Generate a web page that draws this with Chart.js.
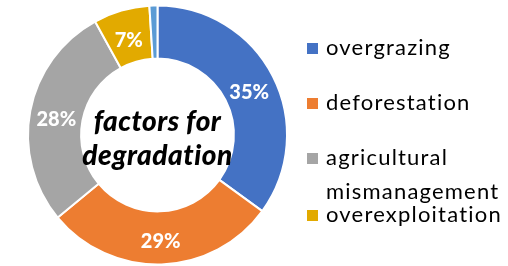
<!DOCTYPE html>
<html>
<head>
<meta charset="utf-8">
<script src="https://cdn.jsdelivr.net/npm/chart.js@4"></script>
<style>
  html, body { margin: 0; padding: 0; background: #fff; }
  #wrap { width: 508px; height: 266px; }
</style>
</head>
<body>
<div id="wrap"><canvas id="grafico" width="508" height="266"></canvas></div>
<script>
const categorias = ["overgrazing", "deforestation", "agricultural mismanagement", "overexploitation", "other"];
const valores = [35, 29, 28, 7, 1];
const cores = ["#4472C4", "#ED7D31", "#A5A5A5", "#E2AA00", "#5B9BD5"];
const rotulosLegenda = [["overgrazing"], ["deforestation"], ["agricultural", "mismanagement"], ["overexploitation"]];
const textoCentro = ["factors for", "degradation"];

// percentuais dentro das fatias
const rotulosFatias = {
  id: "rotulosFatias",
  afterDatasetsDraw(chart) {
    const ctx = chart.ctx;
    const meta = chart.getDatasetMeta(0);
    ctx.save();
    ctx.fillStyle = "#fff";
    ctx.font = "900 20px Lato";
    ctx.textAlign = "center";
    ctx.textBaseline = "middle";
    meta.data.forEach(function (arc, i) {
      if (valores[i] < 5) return;
      const p = arc.tooltipPosition();
      ctx.fillText(valores[i] + "%", p.x, p.y + 4);
    });
    ctx.restore();
  }
};

// titulo no meio da rosca
const centro = {
  id: "centro",
  afterDraw(chart) {
    const ctx = chart.ctx;
    const arc = chart.getDatasetMeta(0).data[0];
    ctx.save();
    ctx.fillStyle = "#000";
    ctx.font = "italic 900 28px Lato";
    ctx.letterSpacing = "0.5px";
    ctx.textAlign = "center";
    ctx.textBaseline = "middle";
    ctx.fillText(textoCentro[0], arc.x, arc.y - 13);
    ctx.fillText(textoCentro[1], arc.x, arc.y + 21);
    ctx.restore();
  }
};

// legenda desenhada a mao por causa da quebra de linha
const legenda = {
  id: "legenda",
  afterDraw(chart) {
    const ctx = chart.ctx;
    const ys = [48, 103, 158, 215];
    ctx.save();
    ctx.font = "22px Lato";
    ctx.letterSpacing = "1.2px";
    ctx.textBaseline = "middle";
    rotulosLegenda.forEach(function (linhas, i) {
      ctx.fillStyle = cores[i];
      ctx.fillRect(307, ys[i] - 5, 11, 11);
      ctx.fillStyle = "#000";
      linhas.forEach(function (t, j) {
        ctx.fillText(t, 326, ys[i] + j * 34);
      });
    });
    ctx.restore();
  }
};

new Chart(document.getElementById("grafico"), {
  type: "doughnut",
  data: {
    labels: categorias,
    datasets: [{
      data: valores,
      backgroundColor: cores,
      borderColor: "#fff",
      borderWidth: 2
    }]
  },
  options: {
    responsive: false,
    animation: false,
    cutout: "59%",
    layout: { padding: { left: 27, right: 220, top: 4, bottom: 0 } },
    plugins: {
      legend: { display: false },
      tooltip: { enabled: false }
    }
  },
  plugins: [rotulosFatias, centro, legenda]
});
</script>
</body>
</html>
